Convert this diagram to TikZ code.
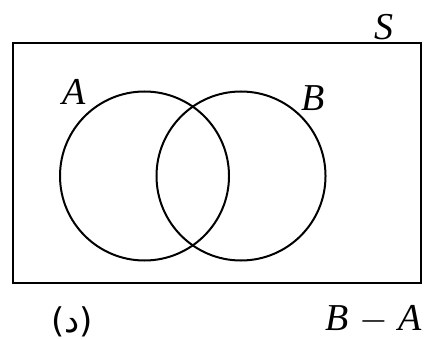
\documentclass[tikz,border=0pt]{standalone}
\usepackage{fontspec}
\setmainfont{Liberation Serif}
\newfontfamily\arabicfont[Script=Arabic]{DejaVu Sans}
\TeXXeTstate=1

\begin{document}
\begin{tikzpicture}[x=0.25pt,y=-0.25pt,line width=0.5pt,font=\fontsize{9.5}{11}\selectfont]
			\useasboundingbox(0,0) rectangle(425,340);
			\draw(13,43) rectangle(421,283);
			\draw(144.5,176) circle(84.5);
			\draw(241,176) circle(84.5);
			\node (labS) at (384,27) {\textit{S}};
			\node (labA) at (74,92) {\textit{A}};
			\node (labB) at (313,98) {\textit{B}};
			\node (diff) at (374,320) {\textit{B}\;$-$\;\textit{A}};
			\node[font=\fontsize{8.5}{10}\selectfont] (part) at (72,322) {\arabicfont\beginR(د)\endR};
		\end{tikzpicture}
\end{document}
